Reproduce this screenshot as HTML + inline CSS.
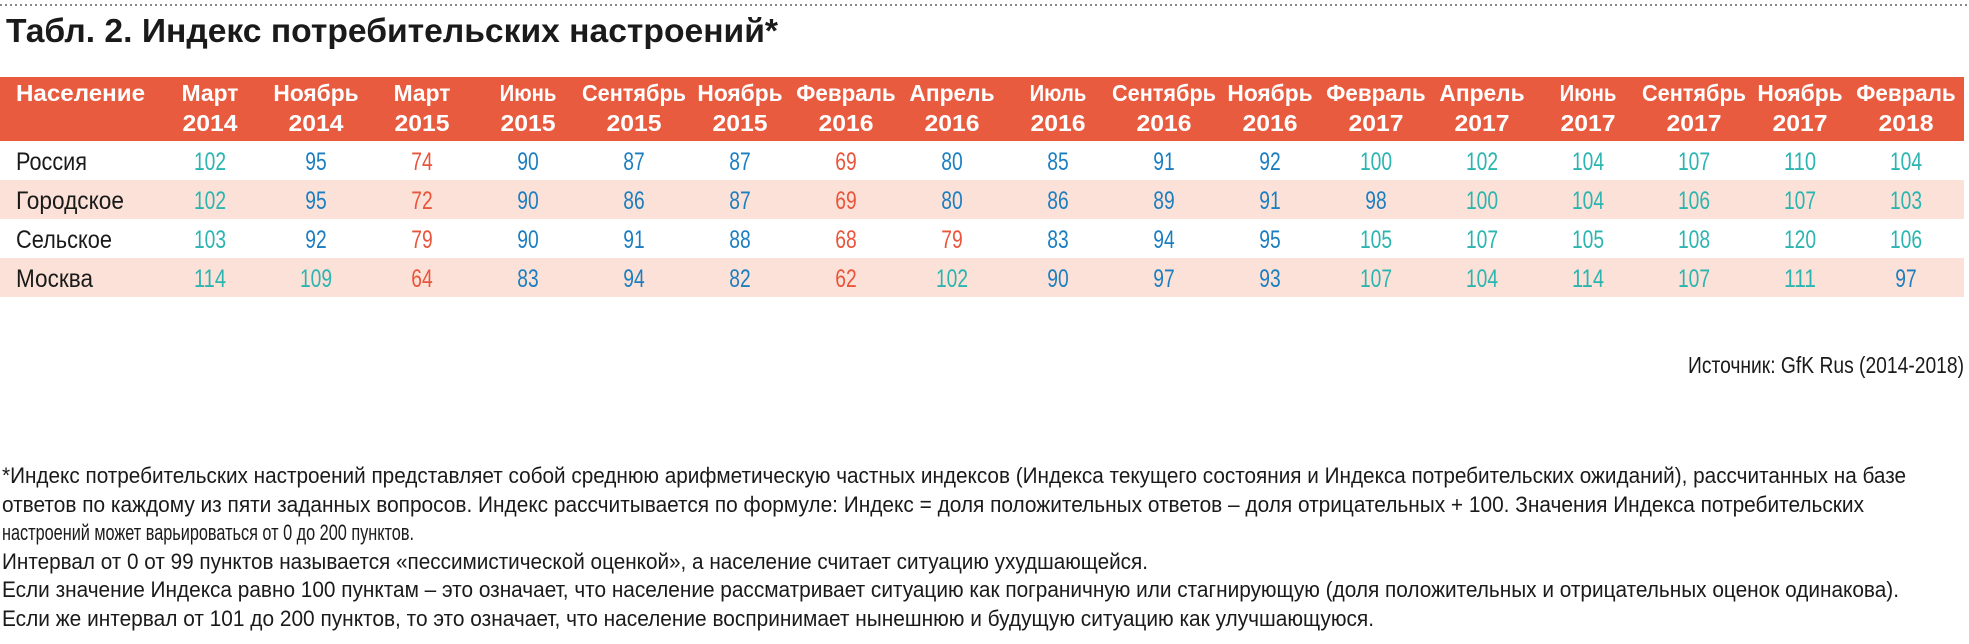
<!DOCTYPE html>
<html lang="ru"><head><meta charset="utf-8">
<style>
html,body{margin:0;padding:0;background:#fff;}
svg{display:block;font-family:"Liberation Sans","DejaVu Sans",sans-serif;}
</style></head>
<body>
<svg id="chart" width="1969" height="644" viewBox="0 0 1969 644" xmlns="http://www.w3.org/2000/svg">
  <line x1="0" y1="5" x2="1969" y2="5" stroke="#888" stroke-width="2" stroke-dasharray="2,3"/>
  <text x="6" y="42" font-size="33" font-weight="bold" fill="#1a1a1a" textLength="772" lengthAdjust="spacingAndGlyphs">Табл. 2. Индекс потребительских настроений*</text>
  <rect x="0" y="77" width="1964" height="64" fill="#e95b3f"/>
  <text x="16" y="101" font-size="23" font-weight="bold" fill="#fff" textLength="129" lengthAdjust="spacingAndGlyphs">Население</text>
  <g id="rows"></g>
  <g id="heads"></g>
  <text x="1964" y="373" font-size="23" fill="#1a1a1a" text-anchor="end" textLength="276" lengthAdjust="spacingAndGlyphs">Источник: GfK Rus (2014-2018)</text>
  <g font-size="22" fill="#1a1a1a">
    <text x="2" y="483" textLength="1904" lengthAdjust="spacingAndGlyphs">*Индекс потребительских настроений представляет собой среднюю арифметическую частных индексов (Индекса текущего состояния и Индекса потребительских ожиданий), рассчитанных на базе</text>
    <text x="2" y="512" textLength="1862" lengthAdjust="spacingAndGlyphs">ответов по каждому из пяти заданных вопросов. Индекс рассчитывается по формуле: Индекс = доля положительных ответов – доля отрицательных + 100. Значения Индекса потребительских</text>
    <text x="2" y="540" textLength="412" lengthAdjust="spacingAndGlyphs">настроений может варьироваться от 0 до 200 пунктов.</text>
    <text x="2" y="569" textLength="1146" lengthAdjust="spacingAndGlyphs">Интервал от 0 от 99 пунктов называется «пессимистической оценкой», а население считает ситуацию ухудшающейся.</text>
    <text x="2" y="597" textLength="1897" lengthAdjust="spacingAndGlyphs">Если значение Индекса равно 100 пунктам – это означает, что население рассматривает ситуацию как пограничную или стагнирующую (доля положительных и отрицательных оценок одинакова).</text>
    <text x="2" y="626" textLength="1372" lengthAdjust="spacingAndGlyphs">Если же интервал от 101 до 200 пунктов, то это означает, что население воспринимает нынешнюю и будущую ситуацию как улучшающуюся.</text>
  </g>
</svg>
<script>
const months = ["Март","Ноябрь","Март","Июнь","Сентябрь","Ноябрь","Февраль","Апрель","Июль","Сентябрь","Ноябрь","Февраль","Апрель","Июнь","Сентябрь","Ноябрь","Февраль"];
const years = ["2014","2014","2015","2015","2015","2015","2016","2016","2016","2016","2016","2017","2017","2017","2017","2017","2018"];
const rowLabels = ["Россия","Городское","Сельское","Москва"];
const russia = [102,95,74,90,87,87,69,80,85,91,92,100,102,104,107,110,104];
const urban = [102,95,72,90,86,87,69,80,86,89,91,98,100,104,106,107,103];
const rural = [103,92,79,90,91,88,68,79,83,94,95,105,107,105,108,120,106];
const moscow = [114,109,64,83,94,82,62,102,90,97,93,107,104,114,107,111,97];
const series = [russia, urban, rural, moscow];

const NS = "http://www.w3.org/2000/svg";
const colX = i => 210 + 106 * i;
const rowY = r => 141 + 39 * r;
const labelW = {"Россия":71,"Городское":108,"Сельское":96,"Москва":77};
function colorFor(v){ return v < 80 ? "#e9543a" : (v < 100 ? "#1a7ec1" : "#2bb5b0"); }
function mk(tag, attrs, parent){ const e=document.createElementNS(NS,tag); for(const k in attrs) e.setAttribute(k,attrs[k]); parent.appendChild(e); return e; }

const heads = document.getElementById("heads");
months.forEach((m,i)=>{
  const t1 = mk("text",{x:colX(i),y:101,"font-size":23,"font-weight":"bold",fill:"#fff","text-anchor":"middle",textLength:Math.min(14.2*m.length,104),lengthAdjust:"spacingAndGlyphs"},heads);
  
  
  t1.textContent = m;
  const t2 = mk("text",{x:colX(i),y:131,"font-size":23,"font-weight":"bold",fill:"#fff","text-anchor":"middle",textLength:55,lengthAdjust:"spacingAndGlyphs"},heads);
  
  
  t2.textContent = years[i];
});

const rows = document.getElementById("rows");
series.forEach((vals,r)=>{
  if (r % 2 === 1) {
    const bg = mk("rect",{x:0,y:rowY(r),width:1964,height:39,fill:"#fbe1d7"},rows);
    
    
  }
  const lab = mk("text",{x:16,y:rowY(r)+29,"font-size":25,fill:"#1a1a1a",textLength:labelW[rowLabels[r]],lengthAdjust:"spacingAndGlyphs"},rows);
  
  
  lab.textContent = rowLabels[r];
  vals.forEach((v,i)=>{
    const s = String(v);
    const t = mk("text",{x:colX(i),y:rowY(r)+29,"font-size":25,fill:colorFor(v),"text-anchor":"middle",textLength:10.7*s.length,lengthAdjust:"spacingAndGlyphs"},rows);
    
    
    t.textContent = s;
  });
});
</script>
</body></html>
